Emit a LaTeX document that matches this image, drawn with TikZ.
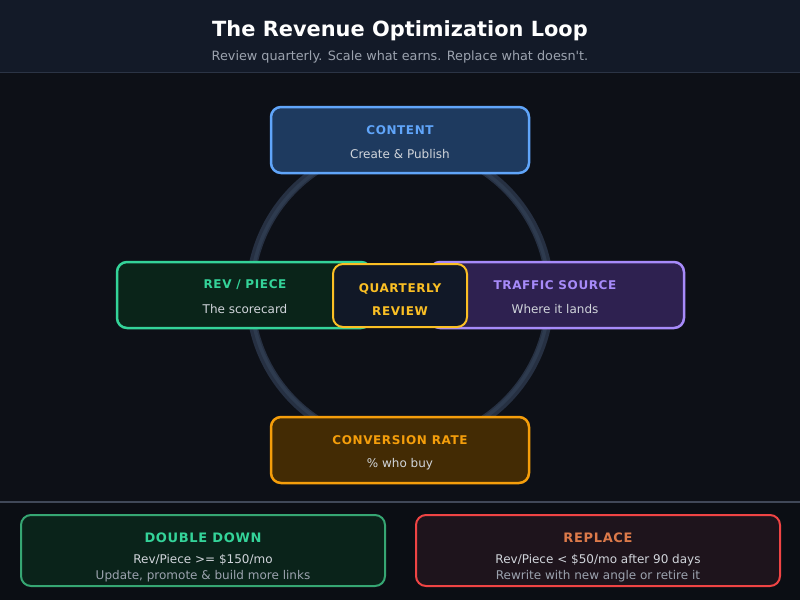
\documentclass[tikz,border=0pt]{standalone}
\usepackage{fontspec}
\setmainfont{DejaVu Sans}[Ligatures=TeXOff]
\newfontfamily\capsfont[LetterSpace=5]{DejaVu Sans}
\definecolor{hdr}{HTML}{131A28}
\definecolor{bgc}{HTML}{0D1017}
\definecolor{ftc}{HTML}{0B0E14}
\definecolor{sepc}{HTML}{2B3445}
\definecolor{ringa}{HTML}{263042}
\definecolor{ringb}{HTML}{2E3B4F}
\definecolor{subc}{HTML}{D1D5DB}
\definecolor{grayc}{HTML}{9CA3AF}
\definecolor{cfill}{HTML}{1E3A5F}\definecolor{cline}{HTML}{60A5FA}
\definecolor{rfill}{HTML}{0A2419}\definecolor{rline}{HTML}{34D399}
\definecolor{tfill}{HTML}{2E2150}\definecolor{tline}{HTML}{A78BFA}
\definecolor{qfill}{HTML}{111827}\definecolor{qline}{HTML}{FBBF24}
\definecolor{vfill}{HTML}{432B04}\definecolor{vline}{HTML}{F59E0B}
\definecolor{dfill}{HTML}{0A231A}\definecolor{dline}{HTML}{36A673}
\definecolor{pfill}{HTML}{1E141C}\definecolor{pline}{HTML}{EF4444}\definecolor{ptext}{HTML}{DC7A4A}
\tikzset{
  card/.style={draw, line width=2.5pt, rounded corners=10pt},
  bcard/.style={draw, line width=2pt, rounded corners=10pt},
  captext/.style={anchor=base, font=\capsfont\bfseries\fontsize{12}{14}\selectfont},
  bcaptext/.style={anchor=base, font=\capsfont\bfseries\fontsize{13}{15}\selectfont},
  bodytext/.style={anchor=base, text=subc, font=\fontsize{12}{14}\selectfont},
  notetext/.style={anchor=base, text=grayc, font=\fontsize{12}{14}\selectfont},
}
\begin{document}
\begin{tikzpicture}[x=1pt,y=-1pt]
\useasboundingbox (0,0) rectangle (800,600);
% backgrounds
\fill[bgc] (0,0) rectangle (800,600);
\fill[hdr] (0,0) rectangle (800,72);
\fill[ftc] (0,502) rectangle (800,600);
\draw[sepc, line width=1pt] (0,72) -- (800,72);
\draw[sepc!90!white, line width=1.5pt] (0,502) -- (800,502);
% title
\node[anchor=base, text=white, font=\bfseries\fontsize{20.9}{24}\selectfont] (title) at (400,36) {The Revenue Optimization Loop};
\node[anchor=base, text=grayc, font=\fontsize{12.8}{15}\selectfont] (subtitle) at (400,60) {Review quarterly. Scale what earns. Replace what doesn't.};
% ring
\node[circle, draw=ringa, line width=8.5pt, minimum size=300pt, inner sep=0pt] (ring) at (400,295) {};
\node[circle, draw=ringb, line width=3.5pt, minimum size=298pt, inner sep=0pt] (ringin) at (400,295) {};
% cards
\path[card, fill=cfill, draw=cline] (271,107) rectangle (529,173);
\node[captext, text=cline] (content) at (400,134.5) {CONTENT};
\node[bodytext] (contentsub) at (400,158.5) {Create \& Publish};

\path[card, fill=rfill, draw=rline] (117,262) rectangle (371,328);
\node[captext, text=rline] (rev) at (245,288.5) {REV / PIECE};
\node[bodytext] (revsub) at (245,313.5) {The scorecard};

\path[card, fill=tfill, draw=tline] (430,262) rectangle (684,328);
\node[captext, text=tline] (traffic) at (555,289.5) {TRAFFIC SOURCE};
\node[bodytext] (trafficsub) at (555,313.5) {Where it lands};

\path[card, line width=2pt, fill=qfill, draw=qline] (333,264) rectangle (467,327);
\node[captext, text=qline] (quarterly) at (400,292.5) {QUARTERLY};
\node[captext, text=qline] (review) at (400,315.5) {REVIEW};

\path[card, fill=vfill, draw=vline] (271,417) rectangle (529,483);
\node[captext, text=vline] (conv) at (400,444.5) {CONVERSION RATE};
\node[bodytext] (convsub) at (400,467.5) {\% who buy};

% bottom cards
\path[bcard, fill=dfill, draw=dline] (21,515) rectangle (385,586);
\node[bcaptext, text=rline] (double) at (203,542) {DOUBLE DOWN};
\node[bodytext] (double1) at (203,563.5) {Rev/Piece >= \$150/mo};
\node[notetext] (double2) at (203,579.5) {Update, promote \& build more links};

\path[bcard, fill=pfill, draw=pline] (416,515) rectangle (780,586);
\node[bcaptext, text=ptext] (replace) at (598,542) {REPLACE};
\node[bodytext] (replace1) at (598,563.5) {Rev/Piece < \$50/mo after 90 days};
\node[notetext] (replace2) at (598,579.5) {Rewrite with new angle or retire it};
\end{tikzpicture}
\end{document}
